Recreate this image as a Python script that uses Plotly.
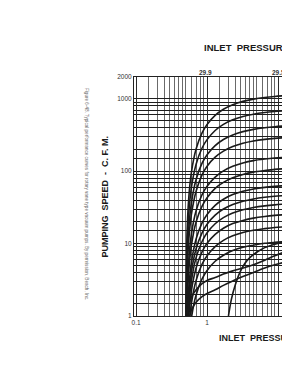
import math
import plotly.graph_objects as go

# ---------------- data ----------------
x_grid = [0.5, 0.52, 0.55, 0.6, 0.7, 0.85, 1.0, 1.3, 1.7, 2.3, 3.2, 4.5, 6.5, 9, 12]

speed_1100 = [0.1, 12, 41, 95, 202, 338, 442, 591, 717, 829, 921, 990, 1044, 1078, 1100]
speed_680 = [0.1, 7.5, 25, 59, 125, 209, 273, 365, 443, 513, 569, 612, 645, 666, 680]
speed_420 = [0.1, 4.7, 15.5, 36, 77, 129, 169, 226, 274, 317, 352, 378, 399, 412, 420]
speed_290 = [0.1, 3.2, 10.7, 25, 53, 89, 117, 156, 189, 219, 243, 261, 275, 284, 290]
speed_155 = [0.1, 1.7, 5.7, 13.4, 28.5, 47.6, 62, 83, 101, 117, 130, 140, 147, 152, 155]
speed_108 = [0.1, 1.2, 4.0, 9.3, 19.9, 33, 43, 58, 70, 81, 90, 97, 102, 106, 108]
speed_63 = [0.05, 0.7, 2.3, 5.4, 11.6, 19.3, 25.3, 33.8, 41, 47.5, 52.7, 56.7, 59.8, 61.7, 63]
speed_46 = [0.05, 0.51, 1.7, 4.0, 8.5, 14.1, 18.5, 24.7, 30, 34.7, 38.5, 41.4, 43.7, 45.1, 46]
speed_35 = [0.05, 0.39, 1.3, 3.0, 6.4, 10.7, 14.1, 18.8, 22.8, 26.4, 29.3, 31.5, 33.2, 34.3, 35]
speed_25 = [0.05, 0.28, 0.92, 2.2, 4.6, 7.7, 10.1, 13.4, 16.3, 18.9, 20.9, 22.5, 23.7, 24.5, 25]
speed_17 = [0.05, 0.19, 0.63, 1.47, 3.1, 5.2, 6.8, 9.1, 11.1, 12.8, 14.2, 15.3, 16.1, 16.7, 17]
speed_10 = [0.05, 0.12, 0.39, 0.92, 1.95, 3.25, 4.26, 5.7, 6.9, 8.0, 8.9, 9.5, 10.1, 10.4, 10.6]

low_a_x = [0.52, 0.55, 0.6, 0.7, 0.85, 1.0, 1.3, 1.7, 2.3, 3.2, 4.5, 6.5, 9, 12]
low_a_y = [1.0, 1.4, 1.8, 2.3, 2.8, 3.1, 3.4, 3.8, 4.2, 4.6, 5.1, 5.9, 6.8, 7.6]
low_b_x = [0.57, 0.6, 0.7, 0.85, 1.0, 1.3, 1.7, 2.3, 3.2, 4.5, 6.5, 9, 12]
low_b_y = [1.0, 1.2, 1.55, 1.85, 2.05, 2.3, 2.65, 3.05, 3.5, 4.0, 4.6, 5.1, 5.5]
low_c_x = [2.0, 2.2, 2.5, 2.9, 3.4, 4.0, 5.0, 6.5, 9, 12]
low_c_y = [1.0, 1.7, 2.7, 4.0, 5.3, 6.4, 7.6, 8.8, 9.8, 10.5]

y_tick_vals = [1, 10, 100, 1000, 2000]
y_tick_text = ["1", "10", "100", "1000", "2000"]
x_tick_vals = [0.1, 1, 10]
x_tick_text = ["0.1", "1", "10"]
top_labels = ["29.9", "29.5"]
top_label_x = [0.94, 10.3]

h_grid = [m * d for d in (1, 10, 100) for m in (1, 1.5, 2, 3, 4, 5, 6, 7, 8, 9)] + [1000]
v_grid_dark = [m * d for d in (0.1, 1) for m in (2, 3, 4, 5, 6, 7, 8, 9)] + [1, 10]
v_grid_light = [m * d for d in (0.1, 1) for m in (1.5, 2.5, 3.5, 4.5)]

caption = ("Figure 6-48. Typical performance curves for rotary vane type vacuum pumps. "
           "By permission, Beach, Inc.")
y_title = "PUMPING  SPEED  -  C. F. M."
top_title = "INLET  PRESSURE  -  INCHES  OF  MERCURY  VACUUM"
bottom_title = "INLET  PRESSURE  -  MM.  OF  MERCURY  ABSOLUTE"

# ---------------- figure ----------------
W, H = 282, 380
L, R, T, B = 134, 0, 77, 64
pw, ph = W - L - R, H - T - B


def px(xp):
    return (xp - L) / pw


def py(yp):
    return (H - B - yp) / ph


fig = go.Figure()
curve_style = dict(color="#1a1a1a", width=1.6, shape="spline", smoothing=0.8)
for ys in [speed_1100, speed_680, speed_420, speed_290, speed_155, speed_108,
           speed_63, speed_46, speed_35, speed_25, speed_17, speed_10]:
    fig.add_trace(go.Scatter(x=x_grid, y=ys, mode="lines", line=curve_style,
                             showlegend=False, hoverinfo="skip"))
for xs, ys in [(low_a_x, low_a_y), (low_b_x, low_b_y), (low_c_x, low_c_y)]:
    fig.add_trace(go.Scatter(x=xs, y=ys, mode="lines", line=curve_style,
                             showlegend=False, hoverinfo="skip"))

font_family = "Liberation Sans, Arial, sans-serif"

fig.update_layout(
    width=W, height=H,
    margin=dict(l=L, r=R, t=T, b=B, pad=0),
    paper_bgcolor="white", plot_bgcolor="white",
    font=dict(family=font_family, color="#222"),
    xaxis=dict(
        type="log", range=[-1.03, 1.056],
        tickmode="array", tickvals=x_tick_vals, ticktext=x_tick_text,
        tickfont=dict(size=6.5, color="#333"),
        showgrid=True, gridcolor="#2a2a2a", gridwidth=0.8,
        minor=dict(tickmode="array", tickvals=v_grid_dark + v_grid_light,
                   showgrid=True, gridcolor="#6a6a6a", gridwidth=0.6),
        showline=True, linecolor="#222", linewidth=1, mirror=True,
        ticks="", zeroline=False,
    ),
    yaxis=dict(
        type="log", range=[0, 3.301],
        tickmode="array", tickvals=y_tick_vals, ticktext=y_tick_text,
        tickfont=dict(size=6.5, color="#333"),
        showgrid=False,
        minor=dict(tickmode="array", tickvals=h_grid,
                   showgrid=True, gridcolor="#1e1e1e", gridwidth=0.9),
        showline=True, linecolor="#222", linewidth=1,
        ticks="", zeroline=False,
    ),
)

ann = []
ann.append(dict(text="<b>" + top_title + "</b>", xref="paper", yref="paper", x=px(202), y=py(47),
                xanchor="left", yanchor="middle", showarrow=False,
                font=dict(size=9.5, color="#1a1a1a", family=font_family)))
ann.append(dict(text="<b>" + bottom_title + "</b>", xref="paper", yref="paper",
                x=px(217), y=py(338), xanchor="left", yanchor="middle", showarrow=False,
                font=dict(size=9, color="#1a1a1a", family=font_family)))
for lab, xv in zip(top_labels, top_label_x):
    ann.append(dict(text="<b>" + lab + "</b>", xref="x", yref="paper", x=math.log10(xv),
                    y=py(72), xanchor="center", yanchor="middle", showarrow=False,
                    font=dict(size=6.5, color="#333", family=font_family)))
ann.append(dict(text="<b>" + y_title + "</b>", xref="paper", yref="paper", x=px(104), y=0.5,
                xanchor="center", yanchor="middle", showarrow=False, textangle=-90,
                font=dict(size=9, color="#1a1a1a", family=font_family)))
ann.append(dict(text=caption, xref="paper", yref="paper", x=px(86.5), y=py(193.5),
                xanchor="center", yanchor="middle", showarrow=False, textangle=90,
                font=dict(size=4.6, color="#666", family=font_family)))
fig.update_layout(annotations=ann)

fig.write_html("out.html")
